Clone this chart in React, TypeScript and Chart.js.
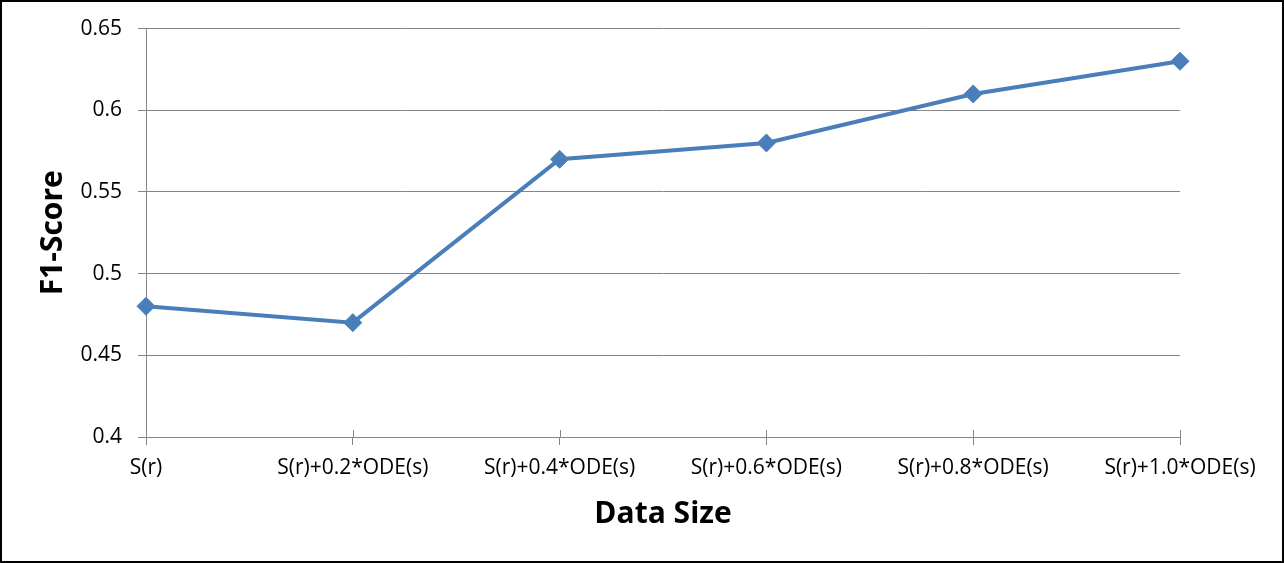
import React, { useEffect, useRef } from "react";
import { Chart, registerables } from "chart.js";

Chart.register(...registerables);

const categories = [
  "S(r)",
  "S(r)+0.2*ODE(s)",
  "S(r)+0.4*ODE(s)",
  "S(r)+0.6*ODE(s)",
  "S(r)+0.8*ODE(s)",
  "S(r)+1.0*ODE(s)",
];
const f1Scores = [0.48, 0.47, 0.57, 0.58, 0.61, 0.63];
const yMin = 0.4;
const yMax = 0.65;
const yStep = 0.05;
const xTitle = "Data Size";
const yTitle = "F1-Score";

const GRID = "#868686";
const BLUE = "#4A7EBB";
const FONT = "'Open Sans'";

const innerTicks = {
  id: "innerTicks",
  afterDraw(chart: any) {
    const x = chart.scales.x;
    const area = chart.chartArea;
    const ctx = chart.ctx;
    ctx.save();
    ctx.strokeStyle = GRID;
    ctx.lineWidth = 1;
    for (let i = 1; i < x.ticks.length; i++) {
      const px = Math.round(x.getPixelForTick(i)) + 0.5;
      ctx.beginPath();
      ctx.moveTo(px, area.bottom - 7);
      ctx.lineTo(px, area.bottom);
      ctx.stroke();
    }
    ctx.restore();
  },
};

export default function App() {
  const ref = useRef<HTMLCanvasElement>(null);
  useEffect(() => {
    if (!ref.current) return;
    const chart = new Chart(ref.current, {
      type: "line",
      data: {
        labels: categories,
        datasets: [
          {
            data: f1Scores,
            borderColor: BLUE,
            backgroundColor: BLUE,
            borderWidth: 4,
            pointStyle: "rectRot",
            pointRadius: 9,
            pointBorderWidth: 1,
            pointBackgroundColor: BLUE,
            pointBorderColor: BLUE,
            tension: 0,
          },
        ],
      },
      options: {
        animation: false,
        responsive: true,
        maintainAspectRatio: false,
        layout: { padding: { left: 0, top: 27, right: 104, bottom: 0 } },
        plugins: {
          legend: { display: false },
          tooltip: { enabled: false },
        },
        scales: {
          x: {
            type: "category",
            offset: false,
            afterFit: (s: any) => {
              s.height = 126;
            },
            grid: {
              display: true,
              drawOnChartArea: false,
              drawTicks: true,
              tickLength: 8,
              color: GRID,
              offset: false,
            },
            border: { display: true, color: GRID },
            ticks: {
              color: "#000",
              padding: 10,
              maxRotation: 0,
              autoSkip: false,
              font: { family: FONT, size: 21 },
            },
            title: {
              display: true,
              text: xTitle,
              color: "#000",
              font: { family: FONT, size: 30, weight: "bold" },
              padding: { top: 0, bottom: 31 },
            },
          },
          y: {
            min: yMin,
            max: yMax,
            afterFit: (s: any) => {
              s.width = 146;
            },
            grid: { color: GRID, tickLength: 8, lineWidth: 1 },
            border: { display: true, color: GRID },
            ticks: {
              stepSize: yStep,
              color: "#000",
              padding: 16,
              font: { family: FONT, size: 21 },
              callback: (v: any) => String(Number(Number(v).toFixed(2))),
            },
            title: {
              display: true,
              text: yTitle,
              color: "#000",
              font: { family: FONT, size: 30, weight: "bold" },
              padding: { top: 35, bottom: 0 },
            },
          },
        },
      },
      plugins: [innerTicks],
    });
    return () => chart.destroy();
  }, []);

  return (
    <div
      style={{
        position: "fixed",
        left: 0,
        top: 0,
        width: 1284,
        height: 563,
        background: "#fff",
      }}
    >
      <canvas ref={ref} />
      <div
        style={{
          position: "absolute",
          left: 0,
          top: 0,
          width: 1284,
          height: 563,
          boxSizing: "border-box",
          border: "2px solid #000",
          pointerEvents: "none",
        }}
      />
    </div>
  );
}
